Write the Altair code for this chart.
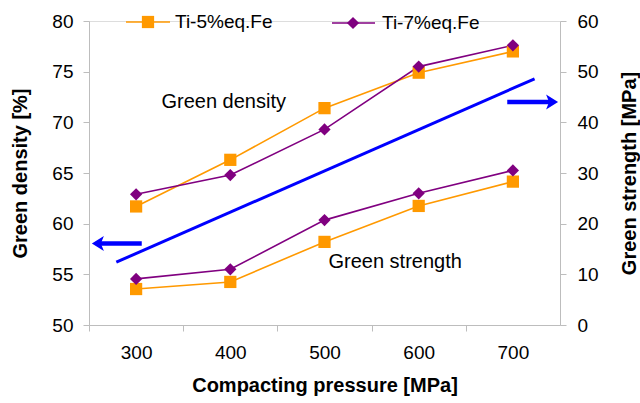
import altair as alt
import pandas as pd

# ---- data ----
pressure = [300, 400, 500, 600, 700]
series = ["Ti-5%eq.Fe", "Ti-7%eq.Fe"]
density_5 = [61.7, 66.3, 71.4, 74.9, 77.0]
density_7 = [62.9, 64.8, 69.3, 75.5, 77.6]
strength_5 = [7.1, 8.5, 16.4, 23.5, 28.3]
strength_7 = [9.1, 11.0, 20.7, 26.0, 30.5]
colors = ["#FF9900", "#800080"]
shapes = ["square", "diamond"]

# annotation geometry (data coordinates: pressure, density scale)
trend_x = [279, 723]
trend_y = [56.2, 74.3]
left_arrow = {"x": 306, "x2": 261, "y": 58.05}
right_arrow = {"x": 694, "x2": 740, "y": 72.0}
notes = pd.DataFrame({"p": [393, 575], "v": [72.0, 56.2],
                      "t": ["Green density", "Green strength"]})

W, H = 471, 304
FONT = "Liberation Sans"

dens = pd.DataFrame({"p": pressure * 2, "v": density_5 + density_7,
                     "s": [series[0]] * 5 + [series[1]] * 5})
stre = pd.DataFrame({"p": pressure * 2, "v": strength_5 + strength_7,
                     "s": [series[0]] * 5 + [series[1]] * 5})

step_px = W / 10.0
x_scale = alt.Scale(domain=[250, 750], nice=False, zero=False)
x_enc = alt.X("p:Q", scale=x_scale,
              axis=alt.Axis(values=pressure, tickOffset=-step_px, labelOffset=step_px,
                            title="Compacting pressure [MPa]", grid=False,
                            labelFontSize=19, labelFont=FONT, labelColor="black",
                            titleFontSize=20, titleFont=FONT, titleFontWeight="bold",
                            titleColor="black", titleX=W / 2, titleY=60,
                            titleBaseline="middle",
                            domainColor="#bdbdbd", tickColor="#bdbdbd", tickSize=6,
                            labelPadding=12))

yl_scale = alt.Scale(domain=[50, 80], nice=False, zero=False)
yl_axis = alt.Axis(values=[50, 55, 60, 65, 70, 75, 80], orient="left", grid=False,
                   title="Green density [%]", labelFontSize=19, labelFont=FONT,
                   labelColor="black", titleFontSize=20, titleFont=FONT,
                   titleFontWeight="bold", titleColor="black", titleAngle=270,
                   titleX=-69, titleY=H / 2, titleBaseline="middle",
                   domainColor="#bdbdbd", tickColor="#bdbdbd", tickSize=6,
                   labelPadding=10)
yr_scale = alt.Scale(domain=[0, 60], nice=False, zero=False)
yr_axis = alt.Axis(values=[0, 10, 20, 30, 40, 50, 60], orient="right", grid=False,
                   title="Green strength [MPa]", labelFontSize=19, labelFont=FONT,
                   labelColor="black", titleFontSize=20, titleFont=FONT,
                   titleFontWeight="bold", titleColor="black", titleAngle=270,
                   titleX=69, titleY=H / 2, titleBaseline="middle",
                   domainColor="#bdbdbd", tickColor="#bdbdbd", tickSize=6,
                   labelPadding=11)

color_enc = alt.Color("s:N", scale=alt.Scale(domain=series, range=colors), legend=None)
shape_enc = alt.Shape("s:N", scale=alt.Scale(domain=series, range=shapes), legend=None)

yl = alt.Y("v:Q", scale=yl_scale, axis=yl_axis)
yr = alt.Y("v:Q", scale=yr_scale, axis=yr_axis)

dens_line = alt.Chart(dens).mark_line(strokeWidth=1.6).encode(x=x_enc, y=yl, color=color_enc, detail="s:N")
dens_pts = alt.Chart(dens).mark_point(filled=True, size=150, opacity=1).encode(
    x=x_enc, y=yl, color=color_enc, shape=shape_enc)

trend = alt.Chart(pd.DataFrame({"p": trend_x, "v": trend_y})).mark_line(
    color="#0000FF", strokeWidth=3).encode(x=x_enc, y=yl)

arrows = pd.DataFrame([left_arrow, right_arrow])
arrow_shaft = alt.Chart(arrows).mark_rule(color="#0000FF", strokeWidth=4.5).encode(
    x=alt.X("x:Q", scale=x_scale), x2="x2:Q", y=alt.Y("y:Q", scale=yl_scale))
head_l = alt.Chart(pd.DataFrame([left_arrow])).mark_point(
    filled=True, color="#0000FF", size=225, opacity=1,
    shape="M-1,0L0.6,-1L0.2,0L0.6,1Z").encode(
    x=alt.X("x2:Q", scale=x_scale), y=alt.Y("y:Q", scale=yl_scale))
head_r = alt.Chart(pd.DataFrame([right_arrow])).mark_point(
    filled=True, color="#0000FF", size=225, opacity=1,
    shape="M1,0L-0.6,-1L-0.2,0L-0.6,1Z").encode(
    x=alt.X("x2:Q", scale=x_scale), y=alt.Y("y:Q", scale=yl_scale))

note_text = alt.Chart(notes).mark_text(fontSize=20, font=FONT, color="black").encode(
    x=x_enc, y=yl, text="t:N")

# manual legend at the top of the plot area
leg = pd.DataFrame({"s": series, "x1": [37, 243], "x2": [81, 286], "xm": [59, 264],
                    "xt": [86, 293], "y": [1, 2]})
leg_line = alt.Chart(leg).mark_rule(strokeWidth=1.6).encode(
    x=alt.X("x1:Q", scale=None), x2="x2:Q", y=alt.Y("y:Q", scale=None), color=color_enc)
leg_pt = alt.Chart(leg).mark_point(filled=True, size=150, opacity=1).encode(
    x=alt.X("xm:Q", scale=None), y=alt.Y("y:Q", scale=None), color=color_enc, shape=shape_enc)
leg_txt = alt.Chart(leg).mark_text(fontSize=19, font=FONT, align="left", baseline="middle",
                                   color="black").encode(
    x=alt.X("xt:Q", scale=None), y=alt.Y("y:Q", scale=None), text="s:N")

left = alt.layer(trend, arrow_shaft, head_l, head_r, note_text, dens_line, dens_pts)
stre_line = alt.Chart(stre).mark_line(strokeWidth=1.6).encode(x=x_enc, y=yr, color=color_enc, detail="s:N")
stre_pts = alt.Chart(stre).mark_point(filled=True, size=150, opacity=1).encode(
    x=x_enc, y=yr, color=color_enc, shape=shape_enc)
right = alt.layer(stre_line, stre_pts)
legend = alt.layer(leg_line, leg_pt, leg_txt)

chart = alt.layer(left, right, legend).resolve_scale(y="independent").properties(
    width=W, height=H,
    autosize=alt.AutoSizeParams(type="none"),
    padding={"left": 89, "top": 21, "right": 80, "bottom": 78},
).configure_view(stroke=None).configure(background="white")

chart.save("out.html", embed_options={"renderer": "svg", "actions": False})
